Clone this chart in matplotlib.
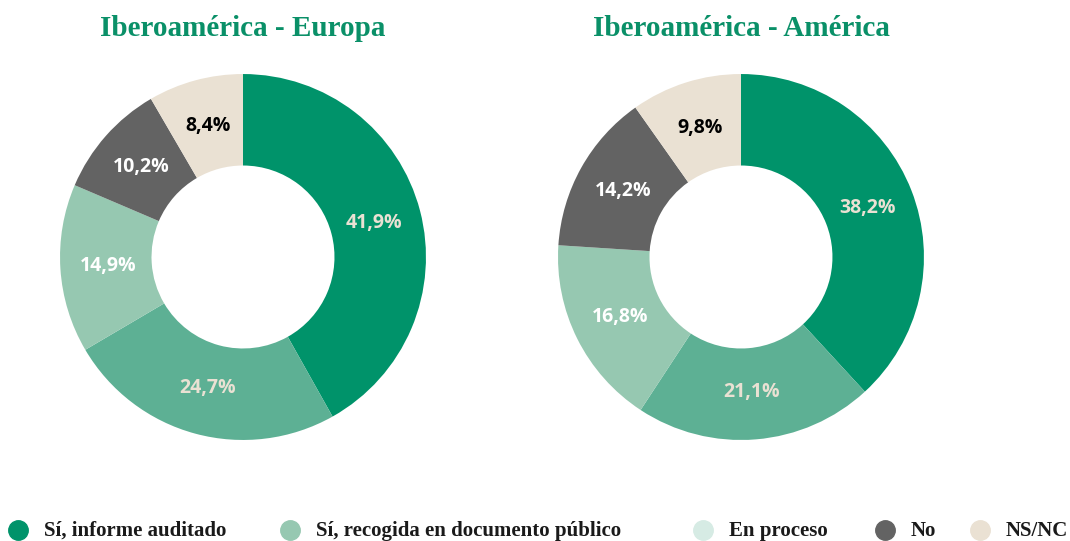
import matplotlib
matplotlib.use("Agg")
import matplotlib.pyplot as plt
from matplotlib.lines import Line2D

# data
categories = ["Sí, informe auditado", "Sí, recogida en documento público",
              "En proceso", "No", "NS/NC"]
titles = ["Iberoamérica - Europa", "Iberoamérica - América"]
europa = [41.9, 24.7, 14.9, 10.2, 8.4]
america = [38.2, 21.1, 16.8, 14.2, 9.8]
europa_labels = ["41,9%", "24,7%", "14,9%", "10,2%", "8,4%"]
america_labels = ["38,2%", "21,1%", "16,8%", "14,2%", "9,8%"]

# slice colours (pie) vs legend colours differ in the original
slice_colors = ["#00936a", "#5db094", "#96c8b1", "#636363", "#eae1d3"]
label_colors = ["#eae1d3", "#eae1d3", "white", "white", "black"]
legend_colors = ["#00936a", "#96c8b1", "#d6ebe4", "#636363", "#eae1d3"]
title_color = "#0a9068"

fig = plt.figure(figsize=(10.7, 5.41), dpi=100)

# axes placed so the donuts sit where they do in the reference
ax_pos = [[0.0561, 0.1867, 0.342, 0.6765], [0.5215, 0.1867, 0.342, 0.6765]]

for pos, vals, labs, title in zip(ax_pos, [europa, america],
                                  [europa_labels, america_labels], titles):
    ax = fig.add_axes(pos)
    wedges, texts = ax.pie(vals, colors=slice_colors, startangle=90,
                           counterclock=False, labels=labs, labeldistance=0.74,
                           wedgeprops=dict(width=0.5, linewidth=0),
                           textprops=dict(fontsize=14, fontweight="bold",
                                          family="Open Sans",
                                          ha="center", va="center"))
    for t, c in zip(texts, label_colors):
        t.set_color(c)
        t.set_ha("center")
    ax.set_xlim(-1, 1)
    ax.set_ylim(-1, 1)
    ax.set_aspect("equal")
    fig.text(pos[0] + pos[2] / 2, 0.947, title, fontsize=21, fontweight="bold",
             family="Liberation Serif", color=title_color,
             ha="center", va="center")

# legend laid out by hand (uneven spacing in the original)
leg_ax = fig.add_axes([0, 0, 1, 1], zorder=-1)
leg_ax.set_xlim(0, 1070)
leg_ax.set_ylim(541, 0)
leg_ax.axis("off")
marker_x = [18, 290, 703, 885, 980]
for mx, c, cat in zip(marker_x, legend_colors, categories):
    leg_ax.add_line(Line2D([mx], [530], marker="o", linestyle="", markersize=14,
                           markerfacecolor=c, markeredgecolor=c))
    leg_ax.text(mx + 26, 531, cat, family="Liberation Serif", weight="bold",
                fontsize=15, color="#1a1a1a", ha="left", va="center")

fig.savefig("out.png", dpi=100)
